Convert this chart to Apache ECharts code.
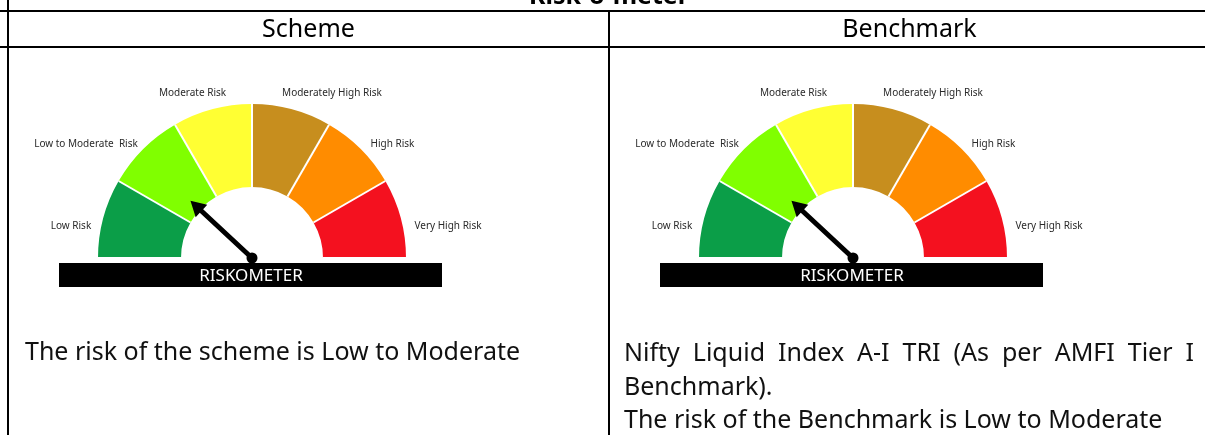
<!DOCTYPE html>
<html><head><meta charset="utf-8">
<script src="https://cdn.jsdelivr.net/npm/echarts@6/dist/echarts.min.js"></script>
<style>html,body{margin:0;padding:0;background:#fff;overflow:hidden}#c{width:1205px;height:435px}</style>
</head><body><div id="c"></div><script>
// ---- data ----
const tableTitle = 'Risk-o-meter';
const panelTitles = ['Scheme', 'Benchmark'];
const riskLevels = ['Low Risk', 'Low to Moderate  Risk', 'Moderate Risk', 'Moderately High Risk', 'High Risk', 'Very High Risk'];
const pointerValues = [1.43, 1.43];
const bannerText = 'RISKOMETER';
const schemeLines = ['The risk of the scheme is Low to Moderate'];
const benchmarkLines = ['Nifty Liquid Index A-I TRI (As per AMFI Tier I', 'Benchmark).', 'The risk of the Benchmark is Low to Moderate'];

// ---- styles / layout ----
const riskColors = ['#0b9e48', '#80ff00', '#ffff33', '#c78e1e', '#ff8c00', '#f4111f'];
const FONT = '"Noto Sans", "Liberation Sans", Arial, sans-serif';
const COL_X = [8, 609];
const COL_SHIFT = COL_X[1] - COL_X[0];
const CX0 = 252, CY = 258, R_OUT = 154, R_IN = 71;
const LABEL_OFFSETS = [[-181, -32], [-166, -114], [-59.5, -165], [80, -165], [140.5, -114], [196, -32]];

const chart = echarts.init(document.getElementById('c'), null, { renderer: 'canvas' });

function gaugeSeries(cx, value) {
  const n = riskLevels.length;
  return {
    type: 'gauge', center: [cx, CY], radius: R_OUT,
    startAngle: 180, endAngle: 0, min: 0, max: n, splitNumber: n,
    axisLine: { roundCap: false, lineStyle: { width: R_OUT - R_IN, color: riskColors.map((c, i) => [(i + 1) / n, c]) } },
    splitLine: { show: true, distance: -(R_OUT - R_IN), length: R_OUT - R_IN, lineStyle: { color: '#ffffff', width: 2 } },
    axisTick: { show: false }, axisLabel: { show: false },
    progress: { show: false },
    pointer: { show: true, icon: 'path://M8.5,0 L17,15 L11,15 L11,84 L6,84 L6,15 L0,15 Z', length: 84, width: 17, offsetCenter: [0, 0], keepAspect: false, itemStyle: { color: '#000' } },
    anchor: { show: true, showAbove: true, size: 11, itemStyle: { color: '#000' } },
    title: { show: false }, detail: { show: false },
    data: [{ value: value }]
  };
}

function txt(text, x, y, font, fill, align, valign) {
  return { type: 'text', silent: true, z: 10,
    style: { text: text, x: x, y: y, font: font, fill: fill,
      textAlign: align, textVerticalAlign: valign, align: align, verticalAlign: valign } };
}
function line(x1, y1, x2, y2) {
  return { type: 'line', silent: true, z: 20, shape: { x1, y1, x2, y2 }, style: { stroke: '#000', lineWidth: 2 } };
}

const ctx = document.createElement('canvas').getContext('2d');
function measure(t, font) { ctx.font = font; return ctx.measureText(t).width; }

const graphics = [];
// table lines
graphics.push(line(0, 11, 1210, 11));
graphics.push(line(0, 47, 1210, 47));
graphics.push(line(8, 0, 8, 435));
graphics.push(line(609, 11, 609, 435));
// title and headers
graphics.push(txt(tableTitle, 609, -3, 'bold 25px ' + FONT, '#000', 'center', 'middle'));
panelTitles.forEach((t, i) => graphics.push(txt(t, (COL_X[i] + (i ? 1210 : 609)) / 2, 30, '25px ' + FONT, '#000', 'center', 'middle')));

// gauge labels and banners
[CX0, CX0 + COL_SHIFT].forEach(cx => {
  riskLevels.forEach((name, i) => {
    graphics.push(txt(name, cx + LABEL_OFFSETS[i][0], CY + LABEL_OFFSETS[i][1], '10px ' + FONT, '#2a2a2a', 'center', 'middle'));
  });
  graphics.push({ type: 'rect', silent: true, z: 5, shape: { x: cx - 193, y: 263, width: 383, height: 24 }, style: { fill: '#000' } });
  graphics.push(txt(bannerText, cx - 1, 276, '17px ' + FONT, '#fff', 'center', 'middle'));
});

// body text
const BODY_FONT = '25px ' + FONT;
const LINE_H = 33.5;
schemeLines.forEach((t, k) => graphics.push(txt(t, 25, 353 + k * LINE_H, BODY_FONT, '#111', 'left', 'middle')));
benchmarkLines.forEach((t, k) => {
  const y = 354 + k * LINE_H;
  if (k === 0) {
    // justified line
    const words = t.split(' ');
    const left = 624, right = 1194;
    const widths = words.map(w => measure(w, BODY_FONT));
    const gap = (right - left - widths.reduce((a, b) => a + b, 0)) / (words.length - 1);
    let x = left;
    words.forEach((w, j) => { graphics.push(txt(w, x, y, BODY_FONT, '#111', 'left', 'middle')); x += widths[j] + gap; });
  } else {
    graphics.push(txt(t, 624, y, BODY_FONT, '#111', 'left', 'middle'));
  }
});

chart.setOption({
  animation: false,
  backgroundColor: '#fff',
  series: [gaugeSeries(CX0, pointerValues[0]), gaugeSeries(CX0 + COL_SHIFT, pointerValues[1])],
  graphic: { elements: graphics }
});
</script></body></html>
